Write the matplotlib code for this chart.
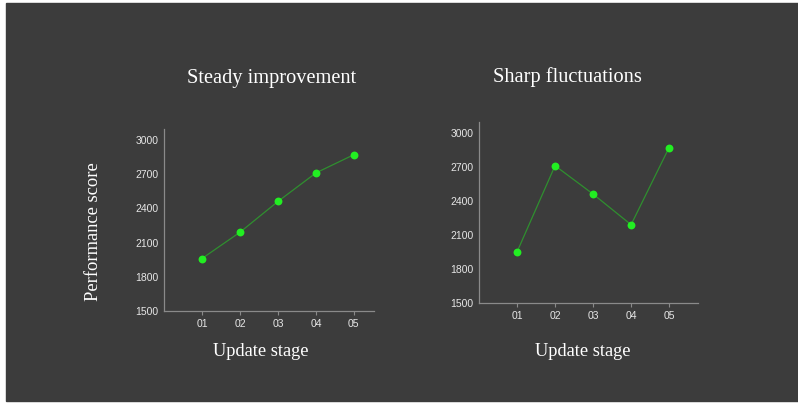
import matplotlib
matplotlib.use("Agg")
import matplotlib.pyplot as plt

# update stages and scores for the two scenarios
stages = ["01", "02", "03", "04", "05"]
steady_scores = [1960, 2190, 2460, 2710, 2870]
sharp_scores = [1950, 2710, 2460, 2190, 2870]
y_ticks = [1500, 1800, 2100, 2400, 2700, 3000]

BG = "#3c3c3c"
LINE = "#2f8f2f"
DOT = "#22ee22"
SPINE = "#8a8a8a"
TICK_TXT = "#e6e6e6"

W, H = 798, 405
fig = plt.figure(figsize=(W / 100, H / 100), dpi=100)
fig.patch.set_facecolor("white")
# dark panel with a thin white margin on left/top/bottom
fig.add_artist(plt.Rectangle((6 / W, 4 / H), 1, 398 / H,
                             transform=fig.transFigure, color=BG, zorder=0))

serif = "Liberation Serif"
sans = "Liberation Sans"


def draw_panel(ax, scores, xmax):
    x = list(range(1, len(stages) + 1))
    ax.set_facecolor(BG)
    ax.plot(x, scores, color=LINE, lw=0.9, zorder=2)
    ax.scatter(x, scores, s=32, color=DOT, zorder=3, linewidths=0)
    ax.set_xlim(0, xmax)
    ax.set_ylim(1500, 3095)
    ax.set_xticks(x)
    ax.set_xticklabels(stages)
    ax.set_yticks(y_ticks)
    for side in ["top", "right"]:
        ax.spines[side].set_visible(False)
    for side in ["left", "bottom"]:
        ax.spines[side].set_color(SPINE)
        ax.spines[side].set_linewidth(0.9)
    ax.tick_params(axis="x", length=3, color=SPINE, labelsize=7.5, labelcolor=TICK_TXT, pad=3)
    ax.tick_params(axis="y", length=0, labelsize=7.5, labelcolor=TICK_TXT, pad=4)
    for lab in ax.get_xticklabels() + ax.get_yticklabels():
        lab.set_fontfamily(sans)


ax1 = fig.add_axes([164 / W, 94 / H, 210 / W, 182 / H])
ax2 = fig.add_axes([479 / W, 102 / H, 219 / W, 181 / H])

draw_panel(ax1, steady_scores, 5.53)
draw_panel(ax2, sharp_scores, 5.76)

# titles, axis labels placed in figure pixels
txt = dict(color="white", family=serif, ha="center", va="center")
fig.text(272 / W, 1 - 78 / H, "Steady improvement", fontsize=14.7, **txt)
fig.text(567 / W, 1 - 77 / H, "Sharp fluctuations", fontsize=14.7, **txt)
fig.text(261 / W, 1 - 351 / H, "Update stage", fontsize=13.2, **txt)
fig.text(583 / W, 1 - 351 / H, "Update stage", fontsize=13.2, **txt)
fig.text(93 / W, 1 - 232 / H, "Performance score", fontsize=13.3, rotation=90, **txt)

fig.savefig("out.png", dpi=100, facecolor=fig.get_facecolor())
